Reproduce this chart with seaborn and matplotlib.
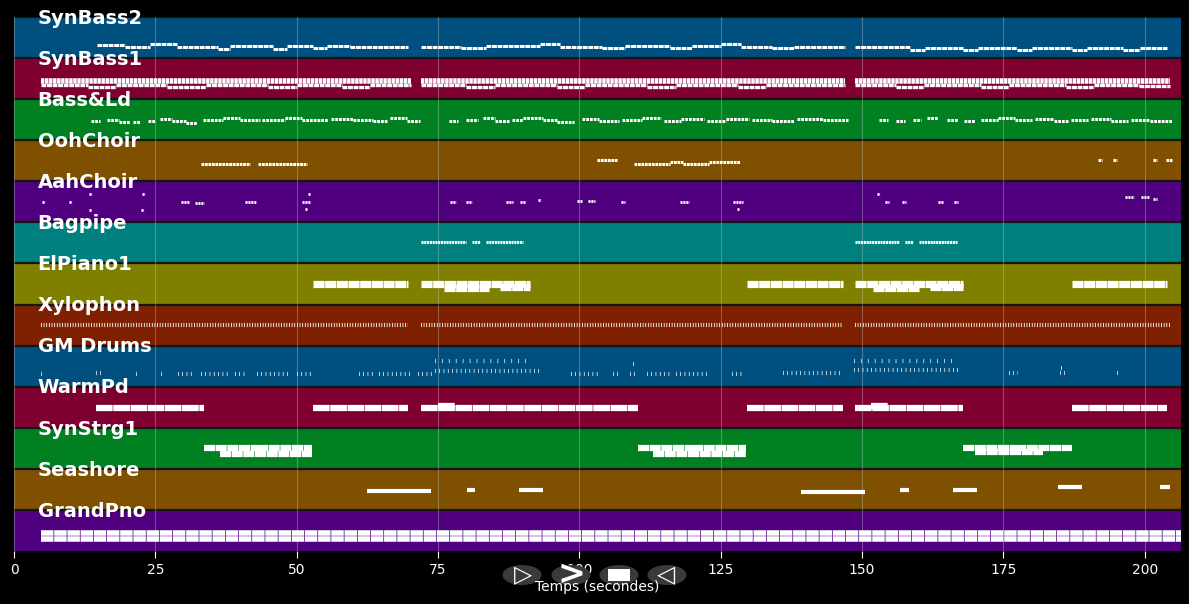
import matplotlib
matplotlib.use("Agg")
import matplotlib.pyplot as plt
from matplotlib.patches import Ellipse, Rectangle
import pandas as pd
import seaborn as sns

# track names, top to bottom
tracks = ["SynBass2", "SynBass1", "Bass&Ld", "OohChoir", "AahChoir", "Bagpipe",
          "ElPiano1", "Xylophon", "GM Drums", "WarmPd", "SynStrg1", "Seashore", "GrandPno"]
lane_colors = ["#00507f", "#7f0030", "#008020", "#7f5000", "#50007f", "#007f7f", "#7f7f00",
               "#7f2000", "#00507f", "#7f0030", "#008020", "#7f5000", "#50007f"]

# note phrases: (start s, end s, position inside lane 0=top 1=bottom)
synbass2 = [(14.7, 19.6, .68), (19.6, 24.0, .74), (24.0, 28.8, .66), (28.8, 36.1, .72),
            (36.1, 38.2, .78), (38.2, 45.8, .70), (45.8, 48.3, .78), (48.3, 52.9, .70),
            (52.9, 55.3, .76), (55.3, 59.4, .70), (59.4, 69.7, .72),
            (72.0, 79.0, .72), (79.0, 83.5, .76), (83.5, 93.0, .70), (93.0, 96.5, .65),
            (96.5, 104.0, .72), (104.0, 108.0, .76), (108.0, 116.0, .70), (116.0, 120.0, .76),
            (120.0, 125.0, .70), (125.0, 128.5, .66), (128.5, 134.0, .72), (134.0, 138.0, .76),
            (138.0, 147.0, .72),
            (148.7, 158.4, .73), (158.4, 161.1, .80), (161.1, 167.8, .76), (167.8, 170.5, .80),
            (170.5, 177.4, .76), (177.4, 180.0, .80), (180.0, 187.1, .76), (187.1, 189.7, .80),
            (189.7, 196.1, .76), (196.1, 199.1, .80), (199.1, 203.9, .76)]
synbass1_hi = [(4.8, 70.2, .55), (72.0, 147.0, .55), (148.7, 204.4, .55)]
synbass1_lo = [(4.8, 13.0, .66), (13.0, 18.0, .70), (18.0, 27.0, .66), (27.0, 34.0, .70),
               (34.0, 45.0, .66), (45.0, 50.0, .70), (50.0, 58.0, .66), (58.0, 63.0, .70),
               (63.0, 70.2, .66), (72.0, 80.0, .66), (80.0, 85.0, .70), (85.0, 96.0, .66),
               (96.0, 101.0, .70), (101.0, 112.0, .66), (112.0, 117.0, .70), (117.0, 128.0, .66),
               (128.0, 133.0, .70), (133.0, 147.0, .66), (148.7, 156.0, .66), (156.0, 161.0, .70),
               (161.0, 171.0, .66), (171.0, 176.0, .70), (176.0, 186.0, .66), (186.0, 191.0, .70),
               (191.0, 199.0, .66), (199.0, 204.4, .68)]
bass_ld = [(13.6, 15.2, .52), (16.4, 18.5, .50), (18.5, 20.5, .55), (21.0, 22.3, .56),
           (23.7, 25.0, .52), (25.8, 28.0, .48), (28.0, 30.5, .54), (30.5, 32.4, .58),
           (33.4, 37.0, .50), (37.0, 40.0, .47), (40.0, 43.5, .50), (43.9, 48.0, .50),
           (48.0, 51.0, .46), (51.0, 55.5, .50), (56.0, 60.0, .48), (60.0, 63.5, .50),
           (63.5, 66.0, .52), (66.5, 69.5, .47), (69.5, 71.8, .52),
           (77.0, 78.5, .52), (80.0, 82.0, .50), (83.0, 85.0, .45), (85.0, 87.5, .52),
           (88.0, 90.0, .50), (90.0, 93.5, .46), (93.5, 96.0, .50), (96.0, 99.0, .55),
           (100.5, 103.5, .48), (103.5, 107.0, .52), (107.5, 111.0, .50), (111.0, 114.5, .47),
           (115.0, 118.0, .52), (118.0, 122.0, .48), (122.5, 126.0, .52), (126.0, 130.0, .48),
           (130.5, 134.0, .50), (134.0, 138.0, .52), (138.5, 143.0, .48), (143.0, 147.5, .50),
           (153.0, 154.5, .50), (156.0, 157.5, .52), (159.0, 160.5, .50), (161.5, 163.5, .46),
           (165.0, 167.0, .50), (168.0, 170.0, .52), (171.0, 174.0, .50), (174.0, 177.0, .46),
           (177.0, 180.0, .50), (180.5, 184.0, .48), (184.0, 186.5, .52), (187.0, 190.0, .50),
           (190.5, 194.0, .48), (194.0, 197.0, .52), (197.5, 201.0, .50), (201.0, 204.8, .52)]
ooh_choir = [(33.1, 41.7, .58), (43.1, 51.8, .57), (103.1, 106.6, .47), (109.6, 116.0, .58),
             (116.0, 118.3, .52), (118.3, 123.0, .58), (123.0, 128.4, .53),
             (191.7, 192.4, .47), (194.3, 195.0, .47), (201.4, 202.1, .47), (203.7, 204.8, .48)]
aah_choir = [(5.0, 5.5, .51), (9.7, 10.2, .51), (13.2, 13.8, .32), (13.2, 13.8, .71),
             (22.6, 23.2, .32), (22.4, 23.0, .71), (29.6, 31.0, .51), (32.0, 33.6, .52),
             (40.8, 42.8, .51), (51.0, 52.4, .51), (52.0, 52.4, .32), (51.5, 51.9, .68),
             (77.2, 78.2, .51), (80.0, 81.0, .51), (87.0, 88.2, .51), (89.5, 90.3, .51),
             (92.6, 93.2, .45), (99.5, 100.4, .49), (101.5, 102.8, .49), (107.3, 108.0, .51),
             (117.8, 119.4, .51), (127.2, 128.9, .51), (127.8, 128.2, .68), (152.6, 153.2, .32),
             (154.0, 154.8, .51), (157.0, 157.8, .51), (163.5, 164.3, .51), (166.2, 167.0, .51),
             (196.5, 198.0, .39), (199.3, 200.8, .39), (201.5, 202.2, .44)]
bagpipe = [(72.0, 80.0, .47), (81.0, 82.5, .47), (83.5, 90.0, .47),
           (148.7, 156.5, .47), (157.5, 159.0, .47), (160.0, 166.8, .47)]
elpiano1 = [(52.9, 69.7, .50), (72.0, 91.2, .49), (76.0, 84.0, .60), (86.0, 91.2, .58),
            (129.6, 146.6, .50), (148.7, 167.8, .49), (152.0, 160.0, .60), (162.0, 167.8, .58),
            (187.1, 203.9, .50)]
xylophon = [(4.8, 69.7, .51), (72.0, 146.5, .51), (148.7, 204.4, .51)]
drums_lo = [(4.8, 5.3, .68), (14.5, 15.5, .66), (21.5, 22.0, .70), (26.0, 26.5, .70),
            (29.0, 32.0, .70), (33.0, 38.0, .68), (39.0, 41.0, .70), (43.0, 48.5, .70),
            (50.0, 52.5, .68), (61.0, 64.0, .68), (64.5, 70.0, .70), (71.5, 74.5, .68),
            (74.5, 93.0, .62), (98.5, 103.5, .70), (106.0, 107.0, .68), (109.0, 110.0, .70),
            (112.0, 116.0, .70), (117.0, 123.0, .70), (127.0, 129.0, .68), (136.0, 146.5, .66),
            (148.5, 167.0, .60), (176.0, 177.5, .66), (185.0, 186.0, .66), (195.0, 195.5, .66)]
drums_hi = [(74.5, 91.5, .38), (109.5, 110.0, .45), (148.5, 166.5, .38), (185.2, 185.7, .55)]
warmpd = [(14.5, 33.6, .52), (52.9, 69.7, .52), (72.0, 110.3, .52), (75.0, 78.0, .47),
          (129.6, 146.6, .52), (148.7, 167.8, .52), (151.5, 154.5, .47), (187.1, 203.9, .52)]
synstrg1 = [(33.6, 43.0, .50), (43.0, 52.7, .49), (36.5, 52.7, .63),
            (110.3, 120.0, .50), (120.0, 129.4, .49), (113.0, 129.4, .63),
            (167.8, 177.0, .50), (177.0, 187.1, .49), (170.0, 182.0, .60)]
seashore = [(62.4, 73.7, .54), (80.1, 81.5, .51), (89.3, 93.5, .51), (139.2, 150.5, .56),
            (156.7, 158.3, .51), (166.0, 170.3, .51), (184.6, 188.9, .44), (202.7, 204.4, .44)]
grandpno = [(4.8, 206.5, .55), (4.8, 206.5, .70)]

ticks = [0, 25, 50, 75, 100, 125, 150, 175, 200]
xmax = 206.4

# track lane -> list of (phrases, linewidth, dash pattern)
layers = [
    (0, synbass2, 2.2, (0, (3.5, 0.5))),
    (1, synbass1_hi, 4.0, (0, (2.5, 0.4))),
    (1, synbass1_lo, 2.4, (0, (3.5, 0.5))),
    (2, bass_ld, 2.2, (0, (2.0, 0.7))),
    (3, ooh_choir, 2.2, (0, (2.0, 0.5))),
    (4, aah_choir, 2.0, (0, (1.5, 0.6))),
    (5, bagpipe, 2.2, (0, (1.5, 0.5))),
    (6, elpiano1, 5.2, (0, (8.0, 0.4))),
    (7, xylophon, 3.0, (0, (0.6, 1.3))),
    (8, drums_lo, 3.0, (0, (0.5, 2.6))),
    (8, drums_hi, 3.0, (0, (0.5, 4.5))),
    (9, warmpd, 4.5, (0, (12.0, 0.4))),
    (10, synstrg1, 4.5, (0, (8.0, 0.4))),
    (11, seashore, 3.0, "solid"),
    (12, grandpno, 4.0, (0, (9.0, 0.5))),
]

sns.set_theme(style="dark", rc={"figure.facecolor": "black", "axes.facecolor": "black",
                                "lines.scale_dashes": False})
plt.rcParams["font.family"] = ["DejaVu Sans"]

fig = plt.figure(figsize=(11.89, 6.04), dpi=100)
ax = fig.add_axes([14 / 1189, 1 - 551 / 604, 1167 / 1189, 534 / 604])
nlanes = len(tracks)

for i, (name, col) in enumerate(zip(tracks, lane_colors)):
    ax.add_patch(Rectangle((0, i), xmax, 1, facecolor=col, edgecolor="none", zorder=0))
    ax.axhline(i, color="#151515", lw=1.6, zorder=1)
for t in ticks:
    ax.axvline(t, color="#cccccc", lw=0.8, alpha=0.35, zorder=2)

for lane, phrases, lw, ls in layers:
    df = pd.DataFrame(phrases, columns=["start", "end", "pos"])
    ax.hlines(lane + df["pos"], df["start"], df["end"], colors="white", lw=lw,
              linestyles=[ls], zorder=3, capstyle="butt")

for i, name in enumerate(tracks):
    ax.text(4.2, i + 0.03, name, color="white", fontsize=14, fontweight="bold",
            va="center", ha="left", zorder=5)

ax.set_xlim(0, xmax)
ax.set_ylim(nlanes, 0)
ax.set_yticks([])
ax.set_xticks(ticks)
ax.tick_params(axis="x", colors="white", labelsize=10, length=5, width=0.8, bottom=True)
for s in ax.spines.values():
    s.set_visible(False)
ax.grid(False)

# player buttons under the axis
by = 1 - 575 / 604
for cx in [522, 571, 619, 667]:
    fig.patches.append(Ellipse((cx / 1189, by), 39 / 1189, 20 / 604,
                               transform=fig.transFigure, facecolor="#3a3a3a",
                               edgecolor="none", zorder=4))
fig.text(523 / 1189, by, "\u25b7", color="white", fontsize=17, fontweight="bold",
         ha="center", va="center", zorder=5)
fig.text(571 / 1189, by, ">", color="white", fontsize=24, fontweight="bold",
         ha="center", va="center", zorder=5)
fig.patches.append(Rectangle(((619 - 11) / 1189, by - 6 / 604), 22 / 1189, 12 / 604,
                             transform=fig.transFigure, facecolor="white",
                             edgecolor="none", zorder=5))
fig.text(666 / 1189, by, "\u25c1", color="white", fontsize=17, fontweight="bold",
         ha="center", va="center", zorder=5)

fig.text(597.5 / 1189, 1 - 587 / 604, "Temps (secondes)", color="white", fontsize=10,
         ha="center", va="center", zorder=6)

fig.savefig("out.png", dpi=100, facecolor="black")
